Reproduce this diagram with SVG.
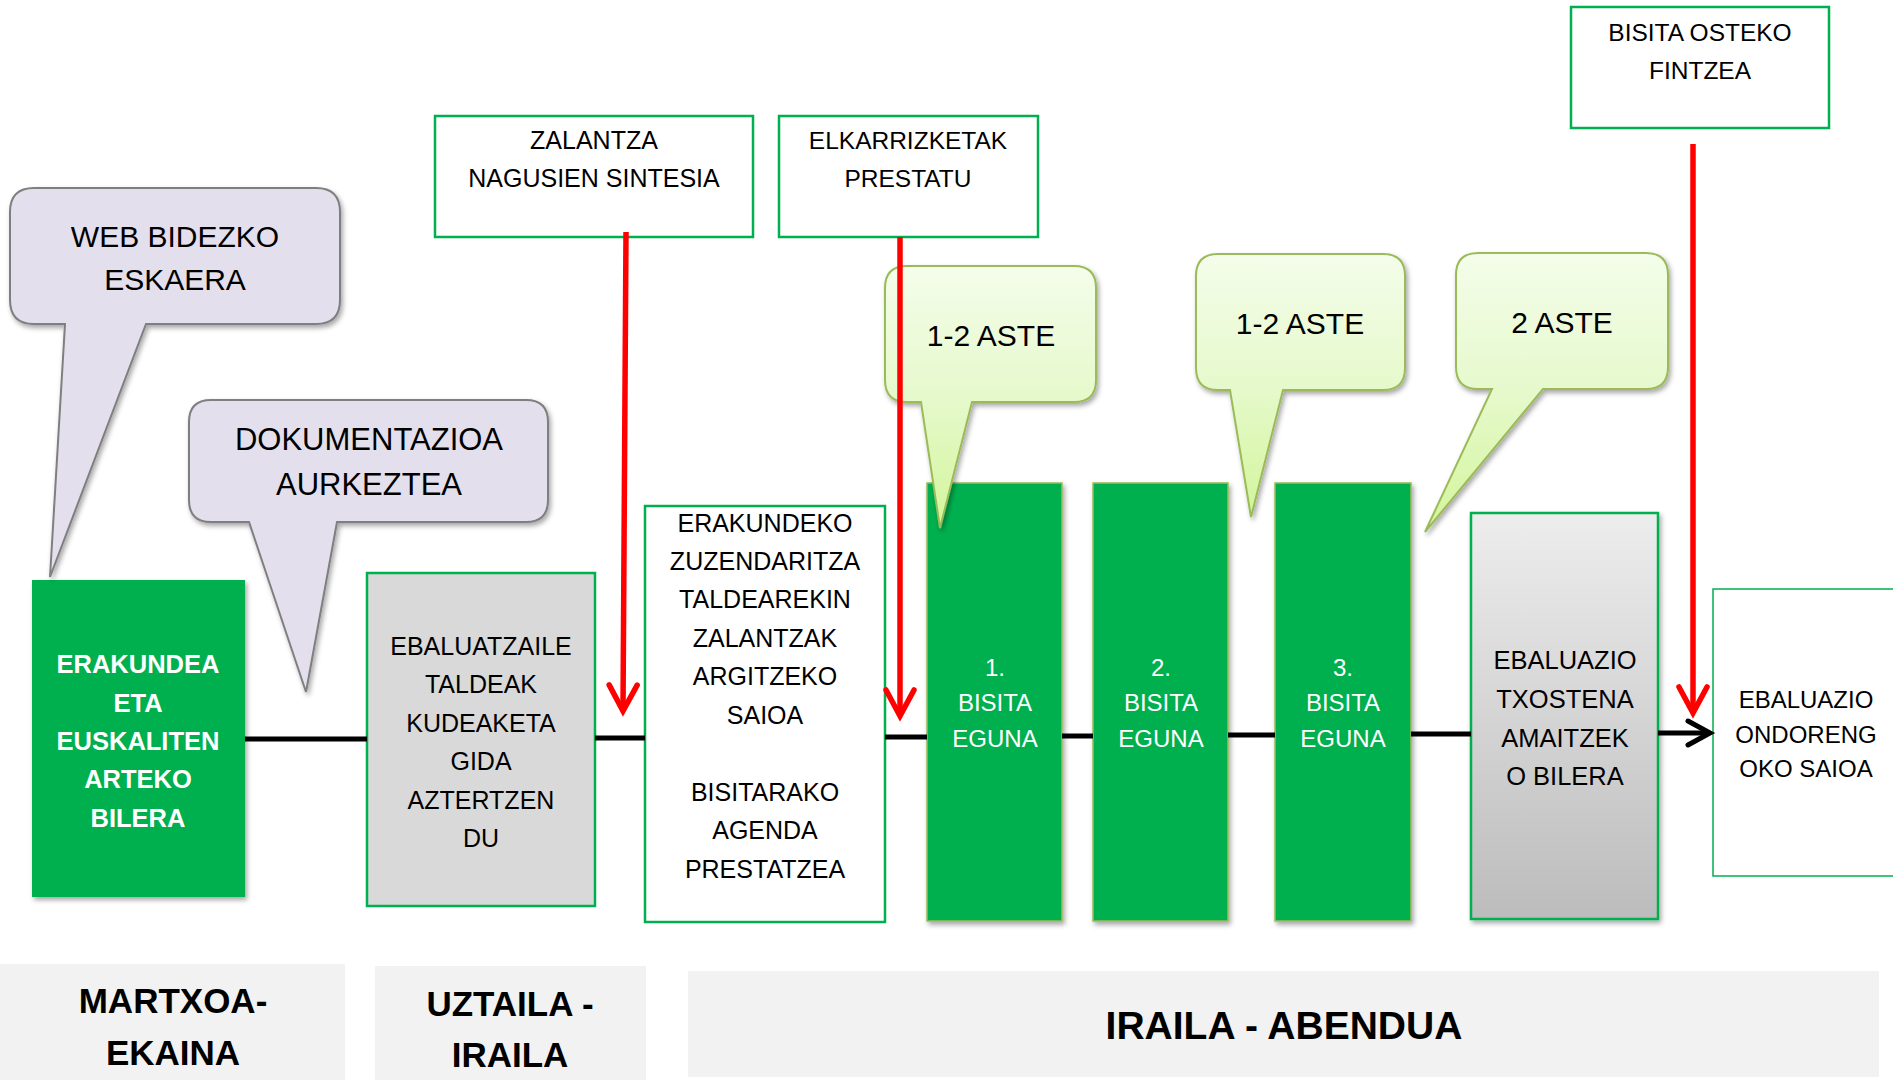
<svg xmlns="http://www.w3.org/2000/svg" width="1893" height="1080" viewBox="0 0 1893 1080">
<style>
text{font-family:"Liberation Sans",Arial,sans-serif;text-anchor:middle;fill:#000}
.w{fill:#fff}
.b{font-weight:bold}
.box{fill:#fff;stroke:#00b050;stroke-width:2.5}
.grn{fill:#00b050;stroke:#9bbb59;stroke-width:1.5}
.lav{fill:#e4dfec;stroke:#7f7f7f;stroke-width:2}
.lime{fill:url(#limeGrad);stroke:#9bbb59;stroke-width:2}
.band{fill:#f2f2f2}
.red{stroke:#ff0000;stroke-width:5.5;fill:none;marker-end:url(#redHead)}
.blk{stroke:#000;stroke-width:5;fill:none}
</style>
<defs>
<linearGradient id="limeGrad" x1="0" y1="0" x2="0" y2="1">
<stop offset="0" stop-color="#f4fdea"/>
<stop offset="0.5" stop-color="#e6f9cc"/>
<stop offset="1" stop-color="#d3f59b"/>
</linearGradient>
<linearGradient id="grayGrad" x1="0" y1="0" x2="0" y2="1">
<stop offset="0" stop-color="#ededed"/>
<stop offset="1" stop-color="#bcbcbc"/>
</linearGradient>
<filter id="shadow" x="-10%" y="-10%" width="130%" height="130%">
<feDropShadow dx="2" dy="3" stdDeviation="2.5" flood-color="#000" flood-opacity="0.35"/>
</filter>
<marker id="redHead" markerUnits="userSpaceOnUse" viewBox="-32 -20 40 40" refX="0" refY="0" markerWidth="40" markerHeight="40" orient="auto">
<path d="M-26,-14 L0,0 L-26,14" fill="none" stroke="#ff0000" stroke-width="5.5" stroke-linecap="round"/>
</marker>
<marker id="blkHead" markerUnits="userSpaceOnUse" viewBox="-30 -20 40 40" refX="0" refY="0" markerWidth="40" markerHeight="40" orient="auto">
<path d="M-22,-12 L0,0 L-22,12" fill="none" stroke="#000" stroke-width="5" stroke-linecap="round"/>
</marker>
</defs>

<g id="band-martxoa">
<rect class="band" x="0" y="964" width="345" height="120"/>
<text class="b" font-size="35" x="173" y="1013">MARTXOA-</text>
<text class="b" font-size="35" x="173" y="1065">EKAINA</text>
</g>
<g id="band-uztaila">
<rect class="band" x="375" y="966" width="271" height="118"/>
<text class="b" font-size="35" x="510" y="1016">UZTAILA -</text>
<text class="b" font-size="35" x="510" y="1067">IRAILA</text>
</g>
<g id="band-iraila">
<rect class="band" x="688" y="971" width="1191" height="106"/>
<text class="b" font-size="39" x="1284" y="1039">IRAILA - ABENDUA</text>
</g>

<g id="node-erakundea-bilera">
<rect x="32" y="580" width="213" height="317" fill="#00b050" filter="url(#shadow)"/>
<text class="w b" font-size="25.5" x="138" y="673">ERAKUNDEA</text>
<text class="w b" font-size="25.5" x="138" y="712">ETA</text>
<text class="w b" font-size="25.5" x="138" y="750">EUSKALITEN</text>
<text class="w b" font-size="25.5" x="138" y="788">ARTEKO</text>
<text class="w b" font-size="25.5" x="138" y="827">BILERA</text>
</g>

<g id="node-ebaluatzaile">
<rect x="367" y="573" width="228" height="333" fill="#d9d9d9" stroke="#00b050" stroke-width="2.5"/>
<text font-size="25" x="481" y="655">EBALUATZAILE</text>
<text font-size="25" x="481" y="693">TALDEAK</text>
<text font-size="25" x="481" y="732">KUDEAKETA</text>
<text font-size="25" x="481" y="770">GIDA</text>
<text font-size="25" x="481" y="809">AZTERTZEN</text>
<text font-size="25" x="481" y="847">DU</text>
</g>

<g id="node-zuzendaritza">
<rect class="box" x="645" y="506" width="240" height="416"/>
<text font-size="25" x="765" y="532">ERAKUNDEKO</text>
<text font-size="25" x="765" y="570">ZUZENDARITZA</text>
<text font-size="25" x="765" y="608">TALDEAREKIN</text>
<text font-size="25" x="765" y="647">ZALANTZAK</text>
<text font-size="25" x="765" y="685">ARGITZEKO</text>
<text font-size="25" x="765" y="724">SAIOA</text>
<text font-size="25" x="765" y="801">BISITARAKO</text>
<text font-size="25" x="765" y="839">AGENDA</text>
<text font-size="25" x="765" y="878">PRESTATZEA</text>
</g>

<g id="node-bisita-1">
<rect class="grn" x="927" y="483" width="135" height="438" filter="url(#shadow)"/>
<text class="w" font-size="24" x="995" y="676">1.</text>
<text class="w" font-size="24" x="995" y="711">BISITA</text>
<text class="w" font-size="24" x="995" y="747">EGUNA</text>
</g>
<g id="node-bisita-2">
<rect class="grn" x="1093" y="483" width="135" height="438" filter="url(#shadow)"/>
<text class="w" font-size="24" x="1161" y="676">2.</text>
<text class="w" font-size="24" x="1161" y="711">BISITA</text>
<text class="w" font-size="24" x="1161" y="747">EGUNA</text>
</g>
<g id="node-bisita-3">
<rect class="grn" x="1275" y="483" width="136" height="438" filter="url(#shadow)"/>
<text class="w" font-size="24" x="1343" y="676">3.</text>
<text class="w" font-size="24" x="1343" y="711">BISITA</text>
<text class="w" font-size="24" x="1343" y="747">EGUNA</text>
</g>

<g id="node-txostena">
<rect x="1471" y="513" width="187" height="406" fill="url(#grayGrad)" stroke="#00b050" stroke-width="2.5" filter="url(#shadow)"/>
<text font-size="25.5" x="1565" y="669">EBALUAZIO</text>
<text font-size="25.5" x="1565" y="708">TXOSTENA</text>
<text font-size="25.5" x="1565" y="747">AMAITZEK</text>
<text font-size="25.5" x="1565" y="785">O BILERA</text>
</g>

<g id="node-ondorengo">
<rect x="1713" y="589" width="200" height="287" fill="#fff" stroke="#00b050" stroke-width="1.5"/>
<text font-size="24" x="1806" y="708">EBALUAZIO</text>
<text font-size="24" x="1806" y="743">ONDORENG</text>
<text font-size="24" x="1806" y="777">OKO SAIOA</text>
</g>

<g id="node-zalantza">
<rect class="box" x="435" y="116" width="318" height="121"/>
<text font-size="25" x="594" y="149">ZALANTZA</text>
<text font-size="25" x="594" y="187">NAGUSIEN SINTESIA</text>
</g>
<g id="node-elkarrizketak">
<rect class="box" x="779" y="116" width="259" height="121"/>
<text font-size="24.5" x="908" y="149">ELKARRIZKETAK</text>
<text font-size="24.5" x="908" y="187">PRESTATU</text>
</g>
<g id="node-osteko">
<rect class="box" x="1571" y="7" width="258" height="121"/>
<text font-size="24.5" x="1700" y="41">BISITA OSTEKO</text>
<text font-size="24.5" x="1700" y="79">FINTZEA</text>
</g>

<g id="callout-web">
<path class="lav" filter="url(#shadow)" d="M34,188 H316 Q340,188 340,212 V300 Q340,324 316,324 H146 L50,577 L65,324 H34 Q10,324 10,300 V212 Q10,188 34,188 Z"/>
<text font-size="30" x="175" y="247">WEB BIDEZKO</text>
<text font-size="30" x="175" y="290">ESKAERA</text>
</g>
<g id="callout-dok">
<path class="lav" filter="url(#shadow)" d="M211,400 H526 Q548,400 548,422 V500 Q548,522 526,522 H337 L306,692 L249,522 H211 Q189,522 189,500 V422 Q189,400 211,400 Z"/>
<text font-size="31" x="369" y="450">DOKUMENTAZIOA</text>
<text font-size="31" x="369" y="495">AURKEZTEA</text>
</g>
<g id="callout-aste-1">
<path class="lime" filter="url(#shadow)" d="M907,266 H1074 Q1096,266 1096,288 V380 Q1096,402 1074,402 H972 L940,528 L921,402 H907 Q885,402 885,380 V288 Q885,266 907,266 Z"/>
<text font-size="30" x="991" y="346">1-2 ASTE</text>
</g>
<g id="callout-aste-2">
<path class="lime" filter="url(#shadow)" d="M1218,254 H1383 Q1405,254 1405,276 V368 Q1405,390 1383,390 H1283 L1251,517 L1230,390 H1218 Q1196,390 1196,368 V276 Q1196,254 1218,254 Z"/>
<text font-size="30" x="1300" y="334">1-2 ASTE</text>
</g>
<g id="callout-aste-3">
<path class="lime" filter="url(#shadow)" d="M1478,253 H1646 Q1668,253 1668,275 V367 Q1668,389 1646,389 H1543 L1425,532 L1492,389 H1478 Q1456,389 1456,367 V275 Q1456,253 1478,253 Z"/>
<text font-size="30" x="1562" y="333">2 ASTE</text>
</g>

<g id="connectors">
<line class="blk" x1="245" y1="739" x2="367" y2="739"/>
<line class="blk" x1="595" y1="738" x2="645" y2="738"/>
<line class="blk" x1="885" y1="737" x2="927" y2="737"/>
<line class="blk" x1="1062" y1="736" x2="1093" y2="736"/>
<line class="blk" x1="1228" y1="735" x2="1275" y2="735"/>
<line class="blk" x1="1411" y1="734" x2="1471" y2="734"/>
<line class="blk" x1="1658" y1="733" x2="1710" y2="733" marker-end="url(#blkHead)"/>
<line class="red" x1="626" y1="232" x2="623" y2="711"/>
<line class="red" x1="900" y1="237" x2="900" y2="716"/>
<line class="red" x1="1693" y1="144" x2="1693" y2="713"/>
</g>
</svg>
